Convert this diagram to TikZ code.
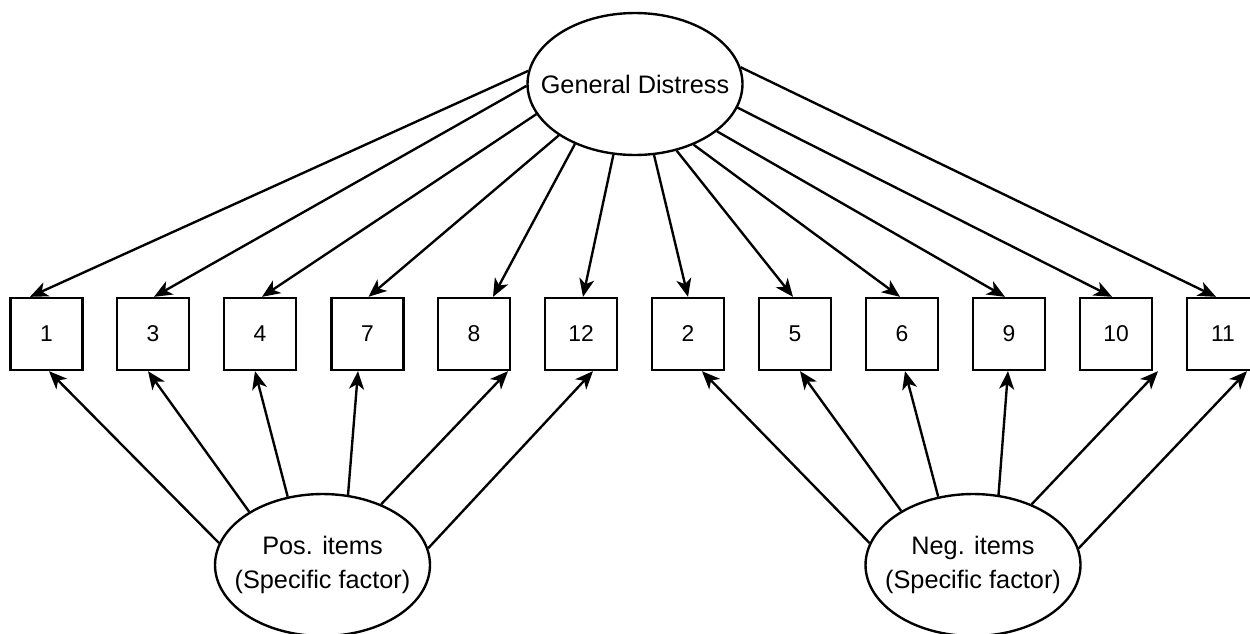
\documentclass[tikz,border=0pt]{standalone}
\usepackage{fontspec}
\setmainfont{Liberation Sans}
\usetikzlibrary{shapes.geometric,arrows.meta}
\begin{document}
\begin{tikzpicture}[x=0.02cm,y=-0.02cm,
  line width=1.35pt,
  factor/.style={draw,ellipse,minimum width=4.3cm,minimum height=2.84cm,
    inner sep=0pt},
  factortext/.style={align=center,inner sep=0pt,
    font=\fontsize{14.4}{19.3}\selectfont},
  item/.style={draw,rectangle,minimum size=1.44cm,inner sep=0pt,
    font=\fontsize{13}{15}\selectfont},
  load/.style={-{Stealth[length=0.36cm,width=0.3cm,inset=0.1cm]}}]
\fill[white] (0,0) rectangle (1250,633);
\useasboundingbox (0,0) rectangle (1250,633);

% latent factors (outline sized independently of the label)
\node[factor,label={[factortext]center:General Distress}] (g) at (635,84) {};
\node[factor,label={[factortext]center:Pos. items\\(Specific factor)}]
  (pos) at (322.5,565) {};
\node[factor,label={[factortext]center:Neg. items\\(Specific factor)}]
  (neg) at (973,565) {};

% observed items
\foreach \n/\x in {1/46.5,3/153,4/260,7/367.5,8/474,12/581,
                   2/688,5/795,6/902,9/1009,10/1116,11/1223}
  \node[item] (i\n) at (\x,334) {\n};

% general factor loadings
\foreach \n/\a/\s in {1/173/-16.5,3/181/1,4/197/2,7/214/1,8/225/19,12/253/2,
                      2/285/0,5/302/-2,6/314/-2,9/330/-4,10/347/-4,11/9/-7}
  \draw[load] (g.\a) -- ([xshift=\s*0.02cm]i\n.north);

% specific factor loadings
\foreach \n/\a/\s in {1/168/2.5,3/144/-5,4/117/-5,7/70/-9.5,8/46/34,12/9/12}
  \draw[load] (pos.\a) -- ([xshift=\s*0.02cm]i\n.south);
\foreach \n/\a/\s in {2/168/14,5/143/5,6/117/3,9/70/-1,10/46/42,11/9/24}
  \draw[load] (neg.\a) -- ([xshift=\s*0.02cm]i\n.south);
\end{tikzpicture}
\end{document}
